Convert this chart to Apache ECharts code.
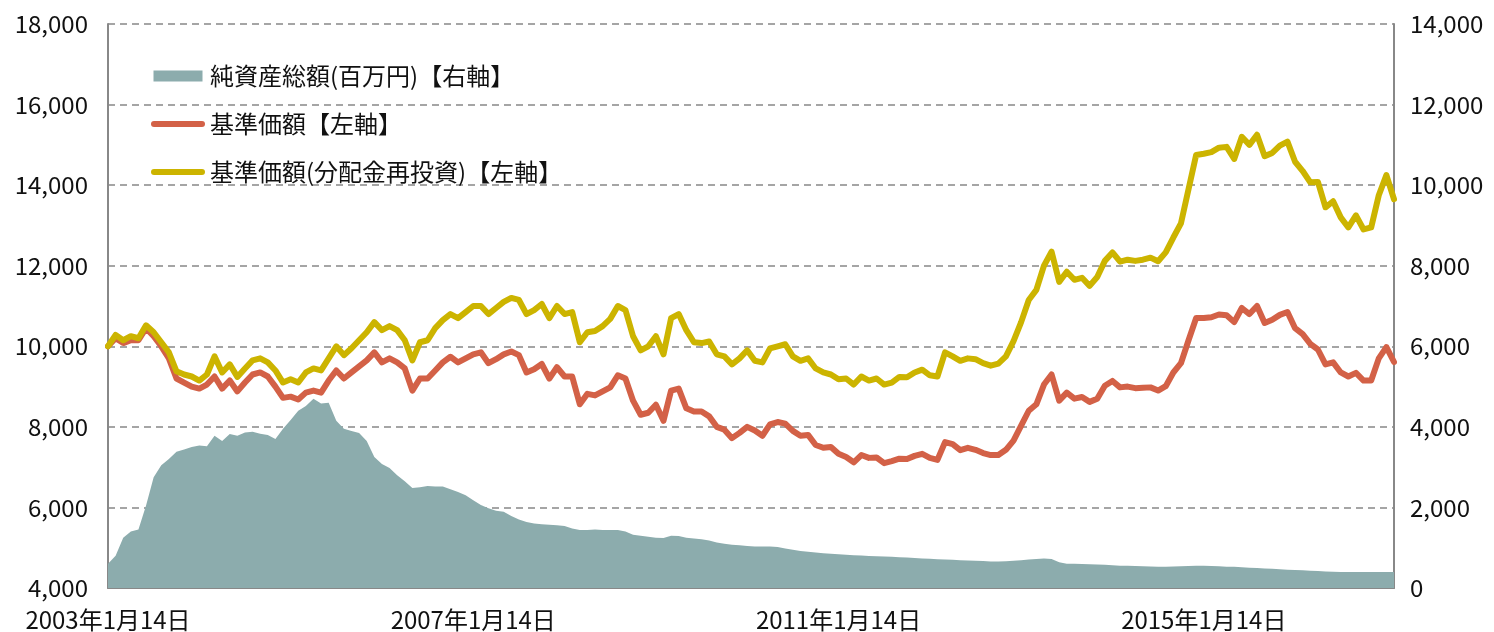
<!DOCTYPE html>
<html>
<head>
<meta charset="utf-8">
<script src="https://cdn.jsdelivr.net/npm/echarts@6/dist/echarts.min.js"></script>
<style>
  html, body { margin: 0; padding: 0; background: #fff; }
  #chart { width: 1494px; height: 632px; }
</style>
</head>
<body>
<div id="chart"></div>
<script>
// 月次（毎月14日）の日付、2003年1月14日から
var startYear = 2003;
var monthCount = 170;

// 基準価額（分配金再投資）【左軸】
var navReinvest = [
  10000, 10280, 10150, 10250, 10200, 10520, 10350, 10100, 9850, 9380,
  9300, 9250, 9150, 9300, 9750, 9350, 9550, 9240, 9450, 9650,
  9700, 9600, 9400, 9100, 9180, 9100, 9350, 9450, 9400, 9700,
  10000, 9780, 9950, 10150, 10350, 10600, 10400, 10500, 10400, 10150,
  9650, 10100, 10150, 10450, 10650, 10800, 10700, 10850, 11000, 11000,
  10800, 10950, 11100, 11200, 11150, 10800, 10900, 11050, 10700, 11000,
  10800, 10850, 10100, 10350, 10380, 10500, 10680, 11000, 10900, 10250,
  9900, 10000, 10250, 9800, 10700, 10800, 10400, 10100, 10080, 10120,
  9800, 9750, 9550, 9700, 9900, 9640, 9600, 9950, 10000, 10050,
  9750, 9640, 9700, 9450, 9350, 9300, 9180, 9200, 9050, 9250,
  9150, 9200, 9050, 9100, 9240, 9230, 9350, 9420, 9280, 9250,
  9850, 9750, 9640, 9700, 9680, 9580, 9520, 9570, 9750, 10130,
  10600, 11150, 11400, 12000, 12350, 11600, 11850, 11650, 11700, 11500,
  11720, 12120, 12330, 12100, 12150, 12120, 12150, 12200, 12110, 12330,
  12700, 13050, 13900, 14750, 14780, 14820, 14930, 14950, 14650, 15200,
  15000, 15250, 14720, 14800, 14980, 15080, 14580, 14350, 14070, 14080,
  13450, 13600, 13200, 12950, 13250, 12900, 12950, 13750, 14250, 13650
];

// 基準価額【左軸】
var nav = [
  10000, 10200, 10080, 10150, 10150, 10450, 10250, 10000, 9700, 9200,
  9100, 9000, 8950, 9050, 9250, 8950, 9150, 8880, 9100, 9300,
  9350, 9250, 9000, 8720, 8750, 8680, 8850, 8900, 8850, 9150,
  9400, 9200, 9350, 9500, 9650, 9850, 9600, 9700, 9600, 9450,
  8900, 9200, 9200, 9400, 9600, 9740, 9600, 9700, 9800, 9850,
  9580, 9680, 9800, 9870, 9780, 9350, 9430, 9560, 9200, 9480,
  9250, 9250, 8560, 8820, 8780, 8880, 8980, 9280, 9200, 8650,
  8300, 8350, 8550, 8150, 8900, 8950, 8460, 8380, 8380, 8260,
  8000, 7930, 7720, 7850, 8000, 7910, 7780, 8060, 8120, 8080,
  7900, 7780, 7800, 7550, 7480, 7500, 7330, 7250, 7120, 7300,
  7230, 7240, 7100, 7150, 7210, 7200, 7280, 7330, 7230, 7180,
  7620, 7570, 7420, 7480, 7430, 7350, 7300, 7300, 7430, 7660,
  8030, 8400, 8560, 9050, 9300, 8650, 8850, 8700, 8740, 8620,
  8700, 9020, 9140, 8980, 9000, 8960, 8970, 8980, 8900, 9010,
  9350, 9580, 10150, 10700, 10700, 10720, 10790, 10770, 10600, 10950,
  10800, 11000, 10580, 10660, 10780, 10850, 10450, 10300, 10060, 9920,
  9550, 9600, 9350, 9250, 9340, 9150, 9150, 9700, 9980, 9610
];

// 純資産総額（百万円）【右軸】
var netAssets = [
  600, 800, 1250, 1400, 1450, 2050, 2750, 3050, 3200, 3380,
  3440, 3500, 3540, 3520, 3780, 3650, 3820, 3780, 3860, 3880,
  3830, 3800, 3700, 3950, 4170, 4400, 4520, 4700, 4580, 4600,
  4150, 3950, 3900, 3850, 3650, 3250, 3080, 2980, 2800, 2650,
  2480, 2500, 2530, 2520, 2520, 2450, 2380, 2300, 2180, 2060,
  1980, 1920, 1890, 1790, 1700, 1640, 1600, 1580, 1570, 1560,
  1540, 1480, 1440, 1440, 1450, 1440, 1440, 1440, 1400, 1320,
  1300, 1270, 1250, 1240, 1300, 1290, 1250, 1230, 1210, 1180,
  1130, 1100, 1075, 1060, 1040, 1030, 1030, 1030, 1020, 980,
  950, 920, 900, 880, 860, 850, 835, 825, 815, 805,
  795, 790, 785, 775, 765, 755, 745, 735, 725, 715,
  705, 700, 690, 680, 675, 670, 660, 655, 665, 675,
  690, 705, 720, 735, 720, 640, 605, 600, 595, 590,
  585, 575, 565, 555, 550, 545, 540, 535, 530, 530,
  535, 540, 545, 550, 550, 545, 540, 530, 525, 515,
  505, 495, 485, 475, 465, 455, 445, 440, 430, 420,
  410, 405, 400, 400, 400, 400, 400, 400, 400, 395
];

var dates = [];
for (var i = 0; i < monthCount; i++) {
  dates.push((startYear + Math.floor(i / 12)) + '年' + (i % 12 + 1) + '月14日');
}

var jpFont = '"Noto Sans CJK JP", sans-serif';
// 凡例アイコン（縦横比を保ったまま収める）
var rectIcon = 'path://M0,0 L49,0 L49,11 L0,11 Z';
var barIcon = 'path://M3,0 L51,0 A3,3 0 0 1 51,6 L3,6 A3,3 0 0 1 3,0 Z';

var chart = echarts.init(document.getElementById('chart'));

var option = {
  animation: false,
  textStyle: { fontFamily: jpFont },
  grid: { left: 108, right: 100, top: 24, bottom: 42 },
  legend: {
    orient: 'vertical',
    left: 151,
    top: 64,
    padding: 0,
    itemWidth: 54,
    itemHeight: 11,
    itemGap: 24,
    symbolKeepAspect: true,
    textStyle: { fontSize: 24, color: '#111', fontFamily: jpFont },
    data: [
      { name: '純資産総額(百万円)【右軸】', icon: rectIcon, symbolKeepAspect: true },
      { name: '基準価額【左軸】', icon: barIcon, symbolKeepAspect: true },
      { name: '基準価額(分配金再投資)【左軸】', icon: barIcon, symbolKeepAspect: true }
    ]
  },
  xAxis: {
    type: 'category',
    data: dates,
    boundaryGap: false,
    axisLine: { onZero: false, lineStyle: { color: '#888', width: 2 } },
    axisTick: { show: false },
    axisLabel: {
      interval: 47,
      fontSize: 24,
      color: '#111',
      margin: 20
    },
    splitLine: { show: false }
  },
  yAxis: [
    {
      type: 'value',
      min: 4000,
      max: 18000,
      interval: 2000,
      axisLine: { show: true, lineStyle: { color: '#888', width: 2 } },
      axisTick: { show: false },
      axisLabel: {
        fontSize: 24,
        color: '#111',
        margin: 20,
        formatter: function (v) { return v.toLocaleString('en-US'); }
      },
      splitLine: { lineStyle: { color: '#888', width: 1.5, type: [7, 5] } }
    },
    {
      type: 'value',
      position: 'right',
      min: 0,
      max: 14000,
      interval: 2000,
      axisLine: { show: true, lineStyle: { color: '#888', width: 2 } },
      axisTick: { show: false },
      axisLabel: {
        fontSize: 24,
        color: '#111',
        margin: 16,
        formatter: function (v) { return v.toLocaleString('en-US'); }
      },
      splitLine: { show: false }
    }
  ],
  series: [
    {
      name: '純資産総額(百万円)【右軸】',
      type: 'line',
      yAxisIndex: 1,
      data: netAssets,
      showSymbol: false,
      symbol: 'none',
      color: '#8cacad',
      lineStyle: { width: 0 },
      areaStyle: { color: '#8cacad', opacity: 1 }
    },
    {
      name: '基準価額【左軸】',
      type: 'line',
      data: nav,
      showSymbol: false,
      symbol: 'none',
      color: '#d36147',
      lineStyle: { width: 6, color: '#d36147', join: 'round', cap: 'round' }
    },
    {
      name: '基準価額(分配金再投資)【左軸】',
      type: 'line',
      data: navReinvest,
      showSymbol: false,
      symbol: 'none',
      color: '#ccb400',
      lineStyle: { width: 6, color: '#ccb400', join: 'round', cap: 'round' }
    }
  ]
};

chart.setOption(option);
</script>
</body>
</html>
